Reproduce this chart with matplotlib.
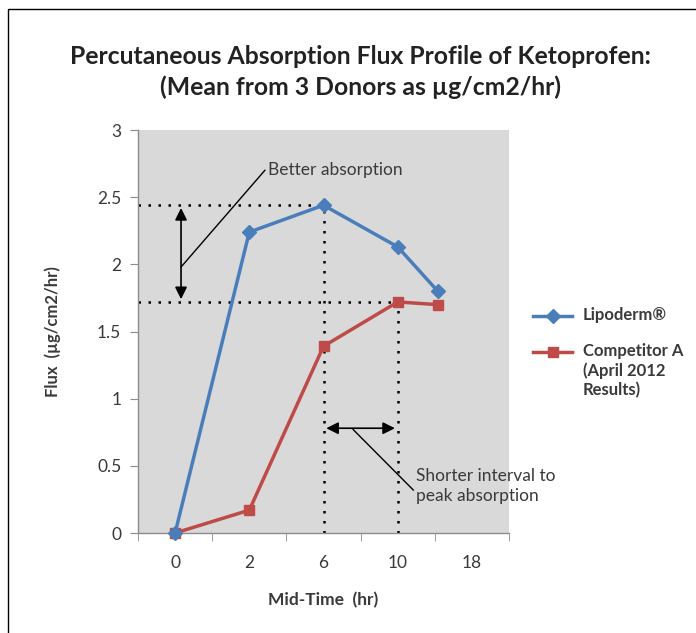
import matplotlib
matplotlib.use("Agg")
import matplotlib.pyplot as plt
from matplotlib.patches import Rectangle
from matplotlib.lines import Line2D

# ---- data ----
categories = ["0", "2", "6", "10", "18"]
lipo_x = [0, 1, 2, 3, 3.54]
lipo_y = [0.0, 2.24, 2.44, 2.13, 1.80]
comp_x = [0, 1, 2, 3, 3.54]
comp_y = [0.0, 0.17, 1.39, 1.72, 1.70]
y_ticks = [0, 0.5, 1, 1.5, 2, 2.5, 3]
y_tick_labels = ["0", "0.5", "1", "1.5", "2", "2.5", "3"]
series_names = ["Lipoderm®", "Competitor A\n(April 2012\nResults)"]

BLUE = "#4a7ebb"
RED = "#be4b48"
TXT = "#3a3a3a"
FONT = "Lato"

plt.rcParams['font.family'] = [FONT, 'DejaVu Sans']

fig = plt.figure(figsize=(6.96, 6.33), dpi=100)
fig.patches.append(Rectangle((8/696, -0.1), 1.2, 1 - 9/633 + 0.1, transform=fig.transFigure,
                             fill=False, edgecolor="black", linewidth=1.0))

ax = fig.add_axes([138/696, 1 - 533/633, (509 - 138)/696, (533 - 130)/633])
ax.set_facecolor("#d9d9d9")
ax.set_xlim(-0.5, 4.5)
ax.set_ylim(0, 3)

for s in ["top", "right"]:
    ax.spines[s].set_visible(False)
for s in ["left", "bottom"]:
    ax.spines[s].set_color("#8c8c8c")
    ax.spines[s].set_linewidth(1.0)

ax.set_yticks(y_ticks)
ax.set_yticklabels(y_tick_labels)
ax.tick_params(axis="y", direction="out", length=6, color="#8c8c8c", labelsize=12.5,
               labelcolor=TXT, pad=6)
ax.set_xticks(range(len(categories)))
ax.set_xticklabels(categories)
ax.set_xticks([i - 0.5 for i in range(len(categories) + 1)], minor=True)
ax.tick_params(axis="x", which="major", length=0, labelsize=12.5, labelcolor=TXT, pad=16)
ax.tick_params(axis="x", which="minor", direction="out", length=6, color="#8c8c8c")

# reference dotted lines
peak_l = max(lipo_y)
peak_c = max(comp_y)
dot = dict(linestyle=(0, (1, 3.0)), color="black", lw=1.8, zorder=2)
ax.plot([-0.5, 2], [peak_l, peak_l], **dot)
ax.plot([2, 2], [0, peak_l], **dot)
ax.plot([-0.5, 3], [peak_c, peak_c], **dot)
ax.plot([3, 3], [0, peak_c], **dot)

# series
l1, = ax.plot(lipo_x, lipo_y, color=BLUE, lw=2.5, marker="D", markersize=7.5, zorder=4,
              clip_on=False)
l2, = ax.plot(comp_x, comp_y, color=RED, lw=2.5, marker="s", markersize=7.5, zorder=3,
              clip_on=False)

# annotations
arrow = dict(arrowstyle="<|-|>", color="black", lw=1.2, mutation_scale=18)
ax.annotate("", xy=(0.08, peak_l), xytext=(0.08, peak_c), arrowprops=arrow, zorder=5)
ax.plot([0.08, 1.21], [1.98, 2.70], color="black", lw=1.0, zorder=5)
ax.text(1.25, 2.70, "Better absorption", fontsize=12.5, color=TXT, va="center", ha="left")

ax.annotate("", xy=(2, 0.78), xytext=(3, 0.78), arrowprops=arrow, zorder=5)
ax.plot([2.4, 3.21], [0.77, 0.32], color="black", lw=1.0, zorder=5)
ax.text(3.25, 0.35, "Shorter interval to\npeak absorption", fontsize=12.5, color=TXT,
        va="center", ha="left", linespacing=1.3)

ax.set_xlabel("Mid-Time  (hr)", fontsize=12.5, fontweight="bold", color=TXT, labelpad=15)
ax.set_ylabel("Flux  (µg/cm2/hr)", fontsize=12, fontweight="bold", color=TXT, labelpad=26)

fig.text(360/696, 1 - 72/633, "Percutaneous Absorption Flux Profile of Ketoprofen:\n(Mean from 3 Donors as µg/cm2/hr)",
         ha="center", va="center", fontsize=17.8, fontweight="bold", color="#222222", linespacing=1.4)

# legend (manual, Excel style: handle aligned with first text line)
leg_rows = [(l1, 316), (l2, 352)]
for (h, ypix), name in zip(leg_rows, series_names):
    yf = 1 - ypix / 633
    fig.add_artist(Line2D([533/696, 572/696], [yf, yf], color=h.get_color(), lw=2.5,
                          transform=fig.transFigure))
    fig.add_artist(Line2D([552.5/696], [yf], color=h.get_color(), marker=h.get_marker(),
                          markersize=7.5, transform=fig.transFigure))
    fig.text(583/696, yf + 9/633, name, ha="left", va="top", fontsize=12, fontweight="bold",
             color=TXT, linespacing=1.25)

fig.savefig("out.png", dpi=100)
